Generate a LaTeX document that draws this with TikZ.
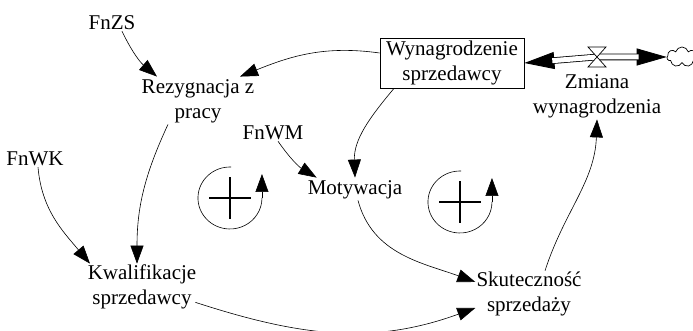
\documentclass[tikz,border=0pt]{standalone}
\usepackage{fontspec}
\setmainfont{Liberation Serif}
\usepackage{tikz}
\usetikzlibrary{arrows.meta, calc, shapes.symbols}

\tikzset{
  var/.style={font=\fontsize{21}{25}\selectfont, align=center, inner sep=1pt},
  lnk/.style={-{Triangle[length=18pt,width=13pt]}, line width=0.6pt},
  pipe/.style={double, double distance=5pt, line width=0.8pt},
  flowhead/.style={-{Triangle[length=30pt,width=17pt]}, line width=0.8pt}
}

\begin{document}
\begin{tikzpicture}[x=1pt, y=1pt]
  \useasboundingbox (0,0) rectangle (693,331);
  % variables
  \node[var] (fnzs) at (112,308) {FnZS};
  \node[var] (rez) at (198,229.5) {Rezygnacja z\\pracy};
  \node[var, draw, line width=0.8pt, minimum width=144pt, minimum height=50pt] (wyn) at (452,268) {Wynagrodzenie\\sprzedawcy};
  \node[var] (fnwm) at (273,198) {FnWM};
  \node[var] (mot) at (355,141) {Motywacja};
  \node[var] (fnwk) at (35,172) {FnWK};
  \node[var] (kwal) at (142,44) {Kwalifikacje\\sprzedawcy};
  \node[var] (skut) at (529,37) {Skuteczność\\sprzedaży};
  \node[var] (zmiana) at (597,234.5) {Zmiana\\wynagrodzenia};
  % flow
  \coordinate (valve) at (597,274);
  \node[cloud, draw, cloud puffs=7, line width=0.7pt, minimum width=30pt, minimum height=20pt, inner sep=0pt] (cl) at (682,274) {};
  \draw[flowhead] (valve) -- (wyn.east);
  \draw[flowhead] (valve) -- (cl.west);
  \draw[pipe, shorten >=28pt] (valve) -- (wyn.east);
  \draw[pipe, shorten >=28pt] (valve) -- (cl.west);
  \filldraw[fill=white, line width=0.7pt] (valve) ++(-9,10) -- ++(18,0) -- ++(-18,-20) -- ++(18,0) -- cycle;
  % links
  \draw[lnk] ([xshift=10pt]fnzs.south) to[bend right=12] ([xshift=-41pt,yshift=2pt]rez.north);
  \draw[lnk] ([yshift=10pt]wyn.west) to[out=172,in=22] ([xshift=42pt,yshift=2pt]rez.north);
  \draw[lnk] ([xshift=-58pt]wyn.south) to[out=-130,in=92] ([yshift=2pt]mot.north);
  \draw[lnk] ([xshift=5pt]fnwm.south) to[bend right=12] ([xshift=10pt,yshift=2pt]mot.north west);
  \draw[lnk] ([xshift=-30pt]rez.south) to[out=-115,in=90] ([xshift=-5pt]kwal.north);
  \draw[lnk] ([xshift=3pt]fnwk.south) to[out=-85,in=130] ([xshift=-52pt]kwal.north);
  \draw[lnk] ([xshift=3pt]mot.south) to[out=-75,in=160] ([yshift=12pt]skut.west);
  \draw[lnk] ([xshift=-2pt,yshift=8pt]kwal.south east) to[out=-18,in=200] ([yshift=-14pt]skut.west);
  \draw[lnk] ([xshift=16pt]skut.north) to[out=72,in=-92] (zmiana.south);
  % loops
  \coordinate (loopa) at (230,133);
  \coordinate (loopb) at (460,129);
  \foreach \c in {loopa, loopb} {
    \draw[line width=0.6pt] (\c) ++(88:31) arc[start angle=88, end angle=360, x radius=32, y radius=31] coordinate (e);
    \draw[lnk] (e) -- ++(0,24);
    \draw[line width=2pt] (\c) +(-21,0) -- +(21,0) (\c) +(0,-21) -- +(0,21);
  }
\end{tikzpicture}
\end{document}
